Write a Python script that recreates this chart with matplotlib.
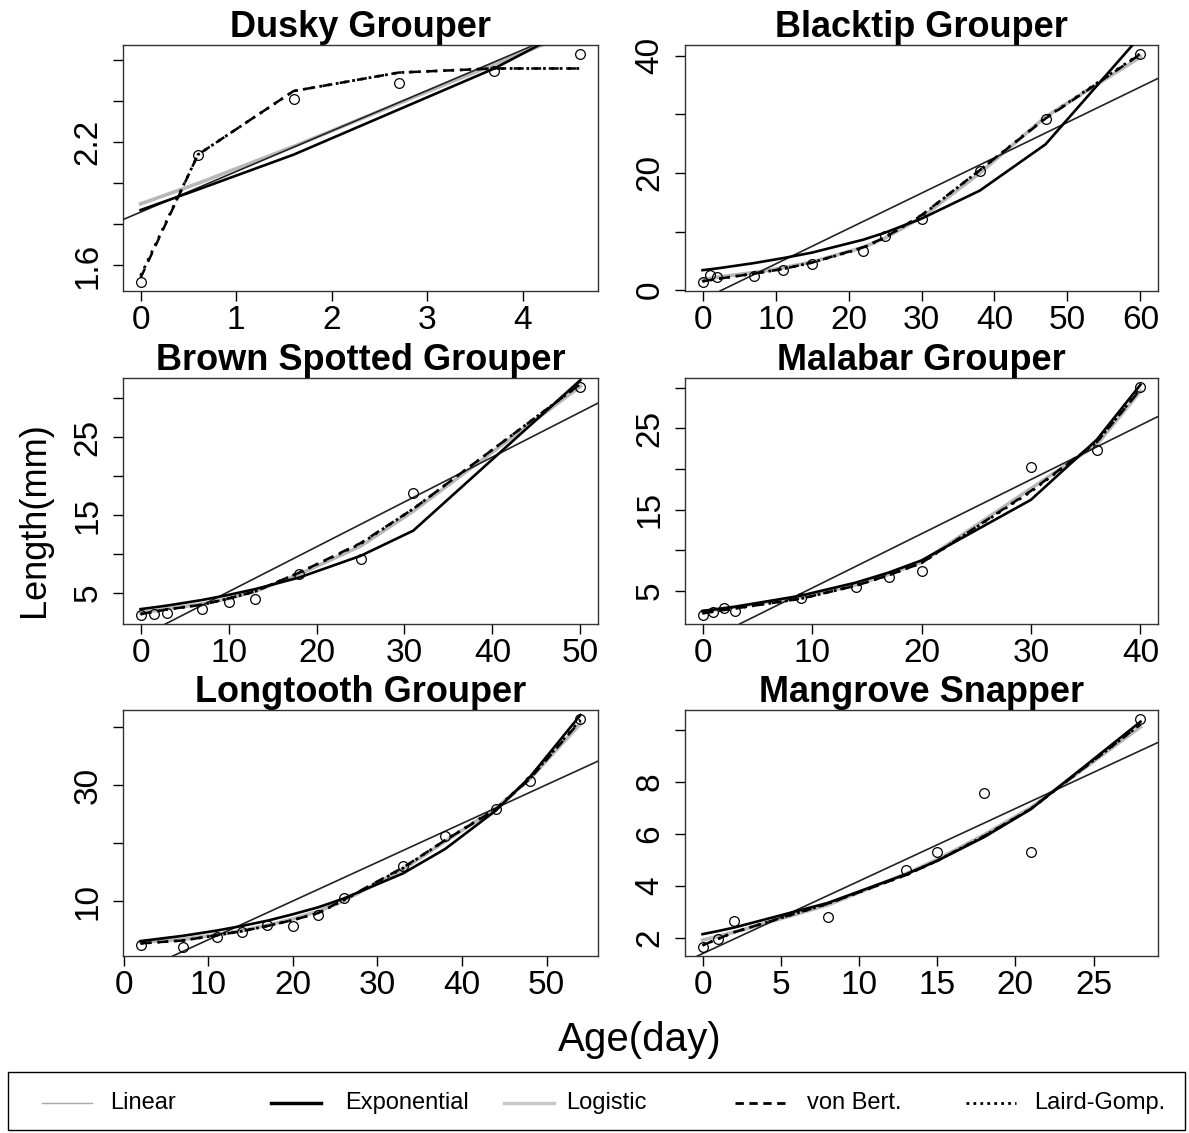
import matplotlib.pyplot as plt
from matplotlib.lines import Line2D
from matplotlib.patches import Rectangle

plt.rcParams['font.family'] = ['Liberation Sans', 'DejaVu Sans']

dusky_age = [0, 0.6, 1.6, 2.7, 3.7, 4.6]
dusky_len = [1.52, 2.14, 2.41, 2.49, 2.55, 2.63]
dusky_lin = [1.86, 1.98, 2.18, 2.40, 2.59, 2.77]
dusky_exp = [1.87, 1.97, 2.14, 2.36, 2.56, 2.78]
dusky_logis = [1.90, 2.00, 2.18, 2.39, 2.58, 2.75]
dusky_vb = [1.54, 2.14, 2.45, 2.54, 2.56, 2.56]
dusky_gomp = [1.55, 2.14, 2.45, 2.54, 2.56, 2.56]

black_age = [0, 1, 2, 7, 11, 15, 22, 25, 30, 38, 47, 60]
black_len = [1.4, 2.6, 2.2, 2.4, 3.4, 4.4, 6.6, 9.2, 12.2, 20.4, 29.3, 40.3]
black_lin = [-1.6, -1.0, -0.4, 2.6, 5.0, 7.4, 11.7, 13.5, 16.5, 21.4, 26.8, 34.7]
black_exp = [3.4, 3.55, 3.7, 4.6, 5.45, 6.4, 8.6, 9.8, 12.2, 17.0, 24.9, 43.4]
black_logis = [1.8, 2.0, 2.2, 3.0, 3.8, 4.8, 7.3, 8.9, 12.4, 20.0, 29.6, 39.8]
black_vb = [1.5, 1.7, 1.9, 2.8, 3.6, 4.7, 7.3, 9.0, 12.8, 20.5, 29.3, 40.3]
black_gomp = [1.5, 1.7, 1.9, 2.8, 3.6, 4.7, 7.2, 9.0, 12.7, 20.5, 29.4, 40.4]

brown_age = [0, 1.5, 3, 7, 10, 13, 18, 25, 31, 50]
brown_len = [2.2, 2.3, 2.5, 3.0, 3.8, 4.2, 7.5, 9.4, 17.8, 31.4]
brown_lin = [-0.59, 0.27, 1.14, 3.44, 5.16, 6.89, 9.76, 13.8, 17.2, 28.2]
brown_exp = [2.94, 3.16, 3.39, 4.11, 4.76, 5.50, 6.98, 9.76, 13.0, 32.3]
brown_logis = [2.5, 2.7, 3.0, 3.6, 4.3, 5.2, 7.4, 11.0, 15.5, 31.5]
brown_vb = [2.3, 2.6, 2.9, 3.5, 4.3, 5.2, 7.6, 11.4, 15.8, 31.8]
brown_gomp = [2.3, 2.6, 2.9, 3.5, 4.3, 5.2, 7.6, 11.3, 15.8, 31.8]

mala_age = [0, 1, 2, 3, 9, 14, 17, 20, 30, 36, 40]
mala_len = [2.0, 2.3, 2.8, 2.5, 4.1, 5.4, 6.7, 7.4, 20.2, 22.4, 30.1]
mala_lin = [-1.39, -0.72, -0.05, 0.62, 4.64, 7.99, 10.0, 12.0, 18.7, 22.7, 25.4]
mala_exp = [2.5, 2.66, 2.83, 3.01, 4.38, 5.98, 7.22, 8.72, 16.2, 23.6, 30.4]
mala_logis = [2.4, 2.6, 2.8, 3.0, 4.2, 5.7, 7.0, 8.5, 17.6, 23.0, 29.6]
mala_vb = [2.2, 2.4, 2.6, 2.8, 4.0, 5.6, 6.9, 8.4, 17.3, 23.3, 29.8]
mala_gomp = [2.2, 2.4, 2.6, 2.8, 4.0, 5.6, 6.9, 8.4, 17.2, 23.3, 29.9]

long_age = [2, 7, 11, 14, 17, 20, 23, 26, 33, 38, 44, 48, 54]
long_len = [2.6, 2.2, 3.9, 4.8, 5.9, 5.8, 7.6, 10.6, 16.1, 21.2, 25.8, 30.6, 41.3]
long_lin = [-1.9, 1.5, 4.1, 6.1, 8.1, 10.1, 12.1, 14.1, 18.7, 22.1, 26.1, 28.7, 32.7]
long_exp = [3.2, 4.1, 5.0, 5.8, 6.7, 7.8, 9.0, 10.5, 14.8, 19.0, 25.6, 31.3, 42.0]
long_logis = [3.0, 3.5, 4.3, 5.0, 5.9, 7.0, 8.3, 10.1, 15.5, 20.3, 26.0, 31.0, 40.5]
long_vb = [2.8, 3.3, 4.2, 4.9, 5.8, 6.8, 8.0, 10.3, 15.8, 20.5, 25.8, 31.0, 41.0]
long_gomp = [2.8, 3.3, 4.2, 4.9, 5.8, 6.8, 8.0, 10.2, 15.7, 20.5, 25.9, 31.1, 41.2]

mang_age = [0, 1, 2, 8, 13, 15, 18, 21, 28]
mang_len = [1.64, 1.94, 2.62, 2.8, 4.58, 5.29, 7.57, 5.29, 10.4]
mang_lin = [1.38, 1.66, 1.94, 3.61, 5.01, 5.57, 6.40, 7.24, 9.19]
mang_exp = [2.13, 2.25, 2.38, 3.33, 4.43, 4.95, 5.86, 6.94, 10.3]
mang_logis = [1.9, 2.05, 2.2, 3.25, 4.45, 5.0, 5.95, 7.0, 10.1]
mang_vb = [1.7, 1.95, 2.2, 3.3, 4.4, 4.95, 5.9, 6.95, 10.2]
mang_gomp = [1.7, 1.95, 2.2, 3.3, 4.4, 4.95, 5.9, 6.95, 10.2]

titles = ['Dusky Grouper', 'Blacktip Grouper', 'Brown Spotted Grouper',
          'Malabar Grouper', 'Longtooth Grouper', 'Mangrove Snapper']

x_ticks = [[0, 1, 2, 3, 4], [0, 10, 20, 30, 40, 50, 60], [0, 10, 20, 30, 40, 50],
           [0, 10, 20, 30, 40], [0, 10, 20, 30, 40, 50], [0, 5, 10, 15, 20, 25]]
y_ticks = [[1.6, 1.8, 2.0, 2.2, 2.4, 2.6], [0, 10, 20, 30, 40], [5, 10, 15, 20, 25, 30],
           [5, 10, 15, 20, 25, 30], [10, 20, 30, 40], [2, 4, 6, 8, 10]]
y_labels = [['1.6', '', '', '2.2', '', ''], ['0', '', '20', '', '40'],
            ['5', '', '15', '', '25', ''], ['5', '', '15', '', '25', ''],
            ['10', '', '30', ''], ['2', '4', '6', '8', '']]

model_names = ['Linear', 'Exponential', 'Logistic', 'von Bert.', 'Laird-Gomp.']

panels = [
    (dusky_age, dusky_len, dusky_lin, dusky_exp, dusky_logis, dusky_vb, dusky_gomp),
    (black_age, black_len, black_lin, black_exp, black_logis, black_vb, black_gomp),
    (brown_age, brown_len, brown_lin, brown_exp, brown_logis, brown_vb, brown_gomp),
    (mala_age, mala_len, mala_lin, mala_exp, mala_logis, mala_vb, mala_gomp),
    (long_age, long_len, long_lin, long_exp, long_logis, long_vb, long_gomp),
    (mang_age, mang_len, mang_lin, mang_exp, mang_logis, mang_vb, mang_gomp),
]

W, H = 1189, 1133
# axes boxes in pixels: left, top, right, bottom
boxes = [(123, 45, 598, 291), (685, 45, 1158, 291),
         (123, 378, 598, 624), (685, 378, 1158, 624),
         (123, 710, 598, 956), (685, 710, 1158, 956)]

fig = plt.figure(figsize=(W / 100, H / 100), dpi=100)

for i, (age, obs, lin, expo, logis, vb, gomp) in enumerate(panels):
    l, t, r, b = boxes[i]
    ax = fig.add_axes([l / W, 1 - b / H, (r - l) / W, (b - t) / H])

    ax.plot(age, logis, color='#b8b8b8', lw=2.6, zorder=2)
    ax.axline((age[0], lin[0]), (age[-1], lin[-1]), color='#222222', lw=1.2, zorder=3)
    ax.plot(age, expo, color='black', lw=1.9, zorder=4)
    ax.plot(age, vb, color='black', lw=1.8, ls=(0, (4, 3)), zorder=5)
    ax.plot(age, gomp, color='black', lw=2.0, ls=(0, (1, 2)), zorder=6)
    ax.plot(age, obs, 'o', mfc='none', mec='black', ms=7, mew=0.9, zorder=7)

    # R style 4% padding around observed data
    xr = max(age) - min(age)
    yr = max(obs) - min(obs)
    ax.set_xlim(min(age) - 0.04 * xr, max(age) + 0.04 * xr)
    ax.set_ylim(min(obs) - 0.04 * yr, max(obs) + 0.04 * yr)

    ax.set_xticks(x_ticks[i])
    ax.set_xticklabels([str(v) for v in x_ticks[i]])
    ax.set_yticks(y_ticks[i])
    ax.set_yticklabels(y_labels[i], rotation=90, va='center')
    ax.tick_params(labelsize=24, length=7, width=1, direction='out', pad=3)
    ax.tick_params(axis='y', pad=7)
    for s in ax.spines.values():
        s.set_linewidth(1)
        s.set_color('#333333')
    ax.set_title(titles[i], fontsize=26, fontweight='bold', pad=2)

fig.text(35 / W, 1 - 520 / H, 'Length(mm)', rotation=90, fontsize=26,
         ha='center', va='center')
fig.text(640 / W, 1 - 1040 / H, 'Age(day)', fontsize=29, ha='center', va='center')

# legend box drawn like R's legend(horiz=TRUE)
fig.add_artist(Rectangle((8 / W, 1 - 1130 / H), 1177 / W, 58 / H, fill=False,
                         edgecolor='black', lw=1, transform=fig.transFigure))
leg_styles = [
    dict(color='#a8a8a8', lw=1.0),
    dict(color='black', lw=2.5),
    dict(color='#c8c8c8', lw=2.5),
    dict(color='black', lw=2.0, ls=(0, (3, 2))),
    dict(color='black', lw=2.0, ls=(0, (1, 1.5))),
]
handle_x = [42, 271, 504, 735, 966]
text_x = [110, 345, 566, 807, 1034]
y_leg = 1 - 1103 / H
for k, name in enumerate(model_names):
    fig.add_artist(Line2D([handle_x[k] / W, (handle_x[k] + 50) / W], [y_leg, y_leg],
                          transform=fig.transFigure, **leg_styles[k]))
    fig.text(text_x[k] / W, y_leg, name, fontsize=17, ha='left', va='center')

fig.savefig('out.png', dpi=100)
